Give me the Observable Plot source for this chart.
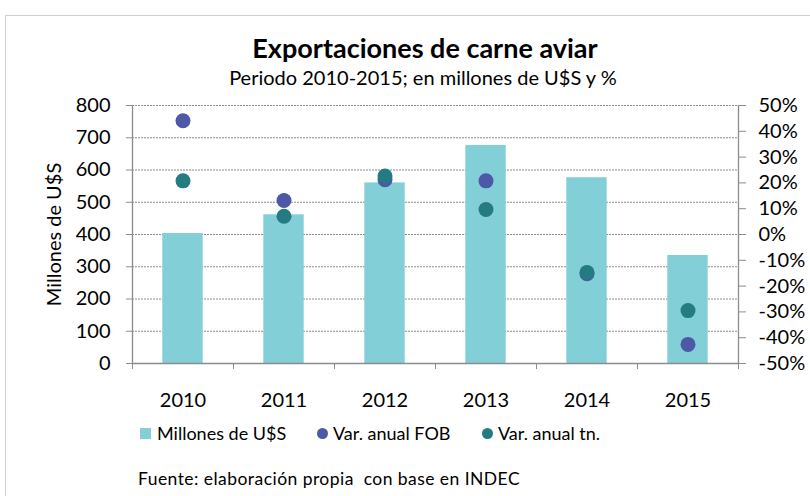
<!DOCTYPE html>
<html>
<head>
<meta charset="utf-8">
<script src="https://cdn.jsdelivr.net/npm/d3@7"></script>
<script src="https://cdn.jsdelivr.net/npm/@observablehq/plot@0.6"></script>
<style>
  html, body { margin: 0; padding: 0; background: #fff; }
  #wrap { position: relative; width: 810px; height: 496px; overflow: hidden; font-family: Lato, "Open Sans", sans-serif; color: #000; }
  #border { position: absolute; left: 5px; top: 15px; width: 820px; height: 520px; border: 1px solid #d0d0d0; box-sizing: border-box; }
  #title { position: absolute; left: 0; width: 850px; top: 31px; text-align: center; font-weight: bold; font-size: 27px; line-height: 34px; }
  #subtitle { position: absolute; left: 0; width: 846px; top: 65px; text-align: center; font-size: 20px; line-height: 24px; }
  #chart { position: absolute; left: 0; top: 0; }
  #legend { position: absolute; left: 140px; top: 422px; font-size: 18px; line-height: 22px; white-space: nowrap; }
  #legend .item { position: absolute; top: 0; display: flex; align-items: center; }
  #legend .sw { width: 11px; height: 11px; margin-right: 6px; flex: none; }
  #legend .dot { width: 11px; height: 11px; border-radius: 50%; margin-right: 5px; flex: none; }
  #source { position: absolute; left: 138px; top: 468px; font-size: 17.5px; letter-spacing: 0.45px; line-height: 22px; white-space: pre; }
</style>
</head>
<body>
<div id="wrap">
  <div id="border"></div>
  <div id="title">Exportaciones de carne aviar</div>
  <div id="subtitle">Periodo 2010-2015; en millones de U$S y %</div>
  <div id="chart"></div>
  <div id="legend"></div>
  <div id="source">Fuente: elaboración propia  con base en INDEC</div>
</div>
<script>
const years = ["2010", "2011", "2012", "2013", "2014", "2015"];
const millones = [403, 461, 560, 676, 576, 335];
const varFOB = [44.1, 13.2, 21.2, 20.8, -15.2, -42.6];
const varTn = [20.8, 7.1, 22.7, 9.7, -14.7, -29.5];
const leftTicks = [0, 100, 200, 300, 400, 500, 600, 700, 800];
const rightTickLabels = ["-50%", "-40%", "-30%", "-20%", "-10%", "0%", "10%", "20%", "30%", "40%", "50%"];
const seriesNames = ["Millones de U$S", "Var. anual FOB", "Var. anual tn."];

const colBar = "#82CFD8";
const colFOB = "#4D58A6";
const colTn = "#247B81";

const data = years.map((y, i) => ({ i, year: y, value: millones[i], fob: varFOB[i], tn: varTn[i] }));
const pctToY = p => (p + 50) * 8; // -50%..50% mapped onto 0..800
const rightTicks = rightTickLabels.map((_, k) => k * 80);

const chart = Plot.plot({
  width: 810,
  height: 496,
  marginLeft: 132,
  marginRight: 72,
  marginTop: 105,
  marginBottom: 133,
  style: { fontFamily: "Lato, 'Open Sans', sans-serif", fontSize: "20px", color: "#000", background: "transparent", overflow: "visible" },
  x: { type: "linear", domain: [0, years.length] },
  y: { domain: [0, 800] },
  marks: [
    Plot.ruleY(leftTicks.filter(t => t > 0), { stroke: "#8c8c8c", strokeDasharray: "2,1", strokeWidth: 1 }),
    Plot.rectY(data, { x1: d => d.i + 0.3, x2: d => d.i + 0.7, y1: 0, y2: "value", fill: colBar }),
    Plot.dot(data, { x: d => d.i + 0.5, y: d => pctToY(d.fob), r: 7.5, fill: colFOB }),
    Plot.dot(data, { x: d => d.i + 0.5, y: d => pctToY(d.tn), r: 7.5, fill: colTn }),
    Plot.ruleY([0], { stroke: "#8c8c8c", strokeWidth: 1.3 }),
    Plot.ruleX([0, years.length], { stroke: "#8c8c8c", strokeWidth: 1.3 }),
    Plot.axisY({ anchor: "left", ticks: leftTicks, tickSize: 6, tickPadding: 16, stroke: "#8c8c8c",
      tickFormat: d => String(d), label: "Millones de U$S", labelAnchor: "center", labelOffset: 86, labelArrow: "none" }),
    Plot.axisY({ anchor: "right", ticks: rightTicks, tickSize: 7, tickPadding: 13, stroke: "#8c8c8c",
      tickFormat: d => rightTickLabels[Math.round(d / 80)], label: null }),
    Plot.axisX({ anchor: "bottom", ticks: d3.range(0, years.length + 1), tickSize: 6, stroke: "#8c8c8c", tickFormat: () => "", label: null }),
    Plot.axisX({ anchor: "bottom", ticks: years.map((_, i) => i + 0.5), tickSize: 0, tickPadding: 29,
      tickFormat: d => years[Math.floor(d)], label: null })
  ]
});
document.getElementById("chart").appendChild(chart);

const legend = document.getElementById("legend");
const legendOffsets = [0, 177, 342];
[
  { label: seriesNames[0], color: colBar, cls: "sw" },
  { label: seriesNames[1], color: colFOB, cls: "dot" },
  { label: seriesNames[2], color: colTn, cls: "dot" }
].forEach((it, k) => {
  const el = document.createElement("div");
  el.className = "item";
  el.style.left = legendOffsets[k] + "px";
  el.innerHTML = `<span class="${it.cls}" style="background:${it.color}"></span><span>${it.label}</span>`;
  legend.appendChild(el);
});
</script>
</body>
</html>
